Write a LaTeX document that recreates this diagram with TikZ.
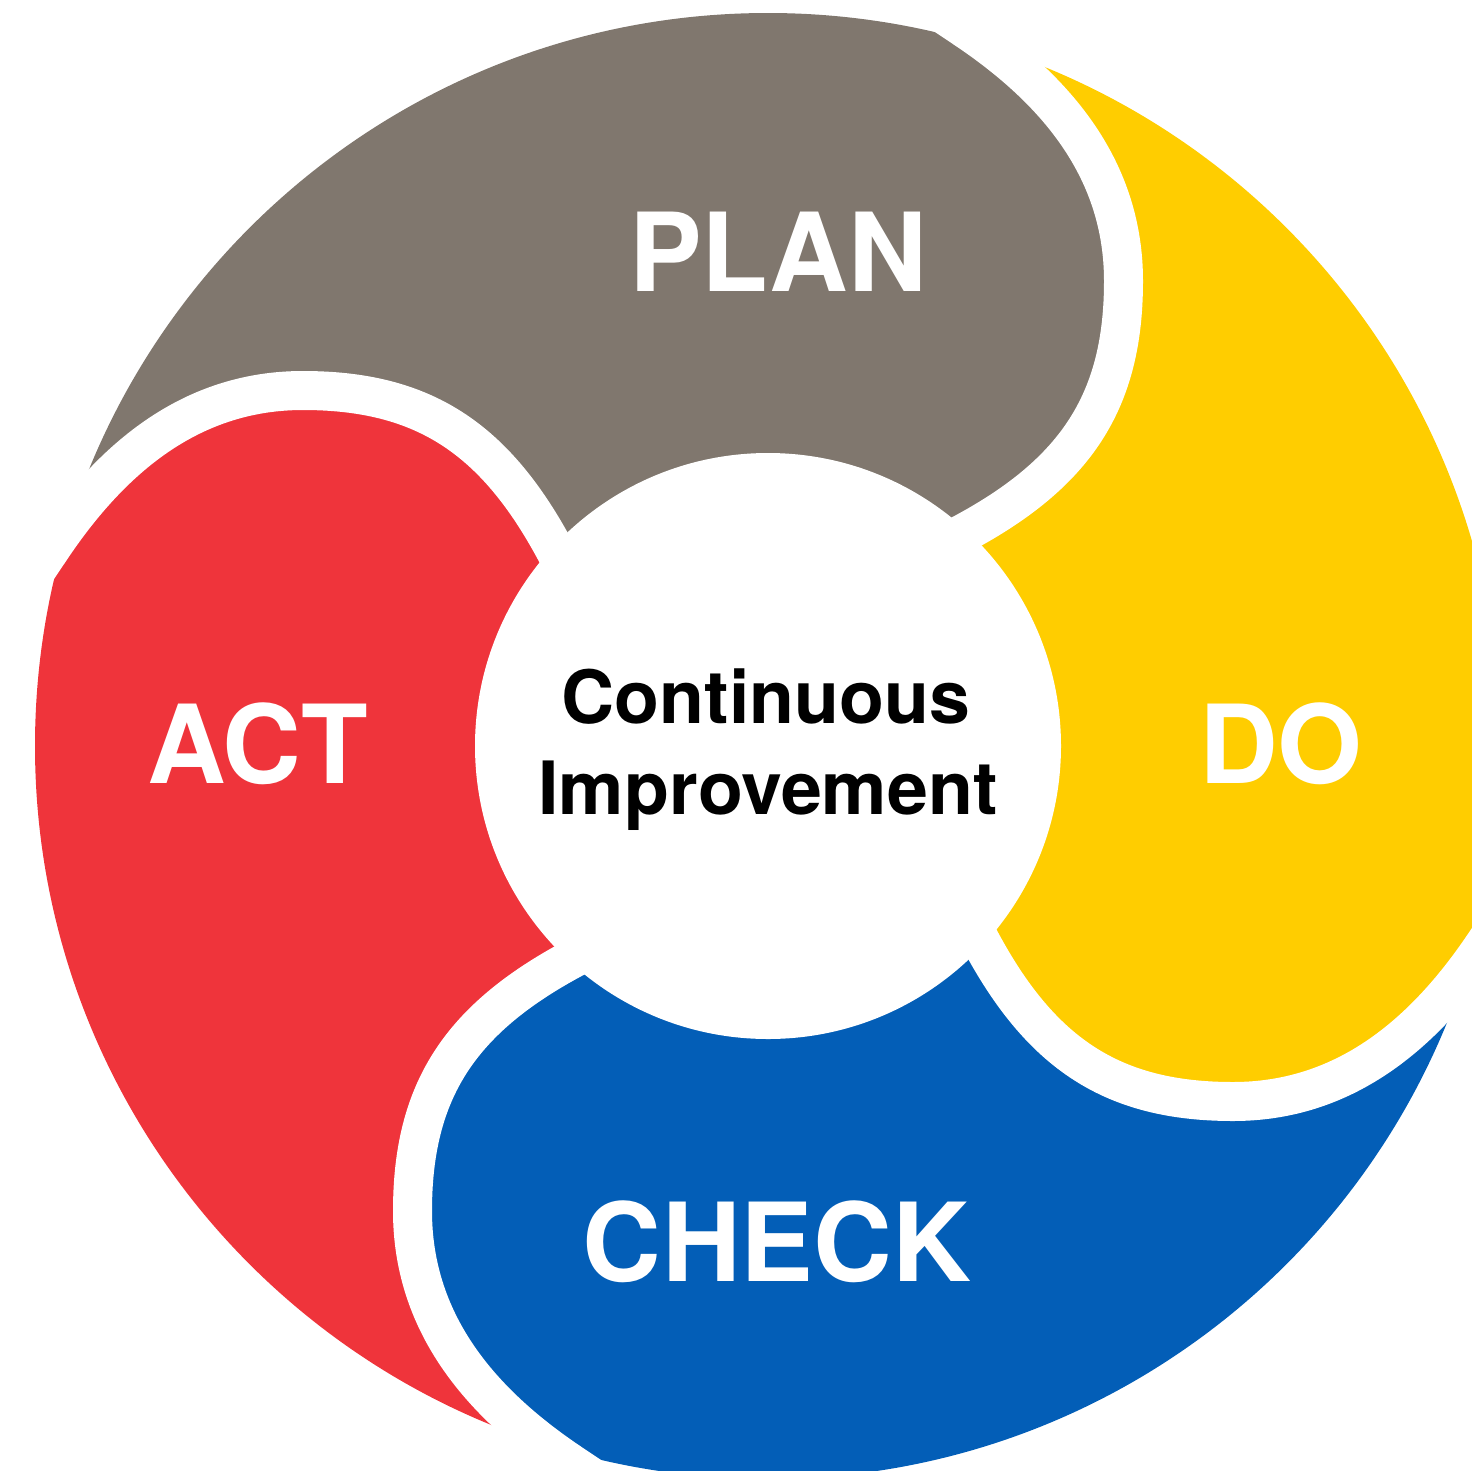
\documentclass[tikz,border=0pt]{standalone}
\usepackage{fontspec}
\setmainfont{TeX Gyre Heros}
\definecolor{plangray}{RGB}{128,119,110}
\definecolor{doyellow}{RGB}{255,205,0}
\definecolor{checkblue}{RGB}{3,94,183}
\definecolor{actred}{RGB}{239,52,59}
\tikzset{
  biglbl/.style={font=\fontsize{109}{120}\selectfont\bfseries, text=white, anchor=base, inner sep=0pt},
  midlbl/.style={font=\fontsize{73.5}{80}\selectfont\bfseries, text=black, anchor=base, inner sep=0pt},
  gapline/.style={draw=white, line width=39pt}
}
\begin{document}
\begin{tikzpicture}[x=1pt,y=-1pt]
\useasboundingbox (0,0) rectangle (1472,1470);
\begin{scope}[shift={(768,746)}]
  \begin{scope}
    \clip (0,0) circle[radius=733];
    \foreach \ang/\col in {0/plangray,-90/doyellow,-180/checkblue,-270/actred} {
      \fill[\col, rotate=\ang] (0,0) -- (-194,-160) -- (-212,-194)
        .. controls (-273.1,-308.4) and (-345,-355.5) .. (-465,-355.5)
        .. controls (-575,-355.5) and (-654.4,-290.3) .. (-716,-199)
        -- (-769,-120) -- (-950,-120) -- (-950,-950) -- (120,-950) -- (120,-769)
        -- (199,-716)
        .. controls (290.3,-654.4) and (355.5,-575) .. (355.5,-465)
        .. controls (355.5,-345) and (308.4,-273.1) .. (194,-212)
        -- (160,-194) -- cycle;
    }
  \end{scope}
  \foreach \ang in {0,-90,-180,-270} {
    \draw[gapline, rotate=\ang] (160,-194) -- (194,-212)
      .. controls (308.4,-273.1) and (355.5,-345) .. (355.5,-465)
      .. controls (355.5,-575) and (290.3,-654.4) .. (199,-716)
      -- (120,-769);
  }
  \fill[white] (0,0) circle[radius=293];
\end{scope}
\node[biglbl] (plan) at (778,291) {PLAN};
\node[biglbl] (do) at (1281,783) {DO};
\node[biglbl] (check) at (777,1281) {CHECK};
\node[biglbl] (act) at (258,783) {ACT};
\node[midlbl] (cont) at (766,723) {Continuous};
\node[midlbl] (impr) at (768,814) {Improvement};
\end{tikzpicture}
\end{document}
